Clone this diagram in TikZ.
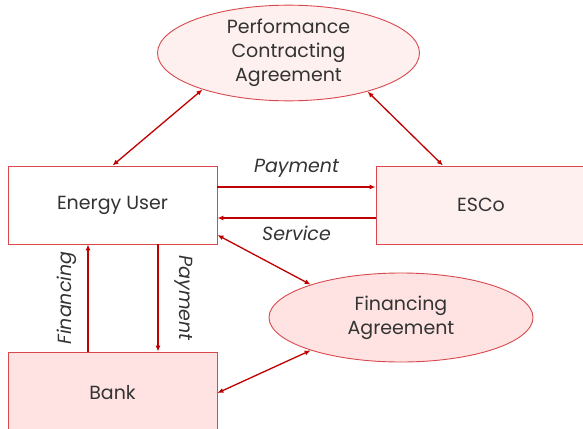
\documentclass[tikz,border=0pt]{standalone}
\usepackage{fontspec}
\setmainfont{Poppins}
\usepackage{tikz}
\usepackage{xcolor}
\usetikzlibrary{positioning,shapes,arrows.meta}
\definecolor{arrowred}{HTML}{C00000}
\definecolor{edgered}{HTML}{D9484C}
\definecolor{textgray}{HTML}{333333}
\definecolor{palepink}{HTML}{FFF0F0}
\definecolor{midpink}{HTML}{FFE3E3}

\begin{document}
\begin{tikzpicture}[x=1pt,y=1pt]
\tikzstyle{every node}+=[inner sep=0pt,text=textgray,font=\fontsize{19}{24}\selectfont]
\tikzstyle{party}=[draw=edgered,line width=0.9pt,rectangle]
\tikzstyle{deal}=[draw=edgered,line width=0.9pt,ellipse,align=center]
\tikzstyle{flow}=[draw=arrowred,line width=1.3pt,-{Latex[length=6pt,width=5pt]}]
\tikzstyle{twoway}=[draw=arrowred,line width=1.3pt,{Latex[length=6pt,width=5pt]}-{Latex[length=6pt,width=5pt]}]
\tikzstyle{flowlabel}=[font=\fontsize{19}{22}\selectfont\itshape]
\useasboundingbox (0,0) rectangle (583,-428);
\node [deal,fill=palepink,minimum width=262,minimum height=86] (pca) at (288.5,-53) {Performance\\Contracting\\Agreement};
\node [party,fill=white,minimum width=209,minimum height=78] (user) at (112.5,-205) {Energy User};
\node [party,fill=palepink,minimum width=210,minimum height=78] (esco) at (481,-205) {ESCo};
\node [deal,fill=midpink,minimum width=264,minimum height=89] (fa) at (401,-317.5) {Financing\\Agreement};
\node [party,fill=midpink,minimum width=209,minimum height=82] (bank) at (112.5,-393) {Bank};
\draw [twoway] (pca.203) -- (user.north);
\draw [twoway] (pca.334) -- ([xshift=-38pt]esco.north);
\draw [flow] ([yshift=18pt]user.east) -- node [above=9pt,flowlabel] {Payment} ([yshift=18pt]esco.west);
\draw [flow] ([yshift=-13pt]esco.west) -- node [below=7pt,flowlabel] {Service} ([yshift=-13pt]user.east);
\draw [twoway] ([yshift=-30pt]user.east) -- (fa.160);
\draw [twoway] (fa.200) -- (bank.east);
\draw [flow] ([xshift=-24.5pt]bank.north) -- node [anchor=south,xshift=-11pt,rotate=90,flowlabel] {Financing} ([xshift=-24.5pt]user.south);
\draw [flow] ([xshift=45.5pt]user.south) -- node [anchor=south,xshift=16pt,rotate=-90,flowlabel] {Payment} ([xshift=45.5pt]bank.north);
\end{tikzpicture}
\end{document}
